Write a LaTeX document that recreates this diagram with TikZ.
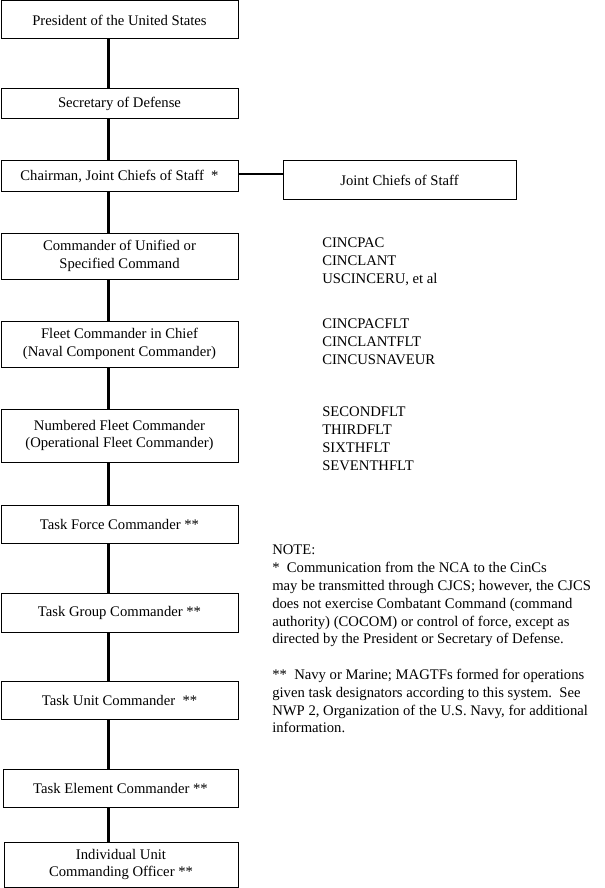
\documentclass[tikz,border=0pt]{standalone}
\usepackage{fontspec}
\setmainfont{Liberation Serif}
\begin{document}
\begin{tikzpicture}[x=0.75pt,y=-0.75pt,
  every node/.style={font=\fontsize{11}{13.35}\selectfont},
  orgbox/.style={draw=black,line width=0.75pt,rectangle,inner sep=0pt,align=center},
  link/.style={line width=1.6pt},
  notetext/.style={anchor=north west,inner sep=0pt,align=left}]
\useasboundingbox[fill=white] (0,0) rectangle (605,888);
% boxes: (x1,y1)-(x2,y2) in pixel units
\newcommand{\orgnode}[6]{%
  \node[orgbox,minimum width={(#4-#2)*0.75pt},minimum height={(#5-#3)*0.75pt}]
    (#1) at ({(#2+#4)/2},{(#3+#5)/2}) {#6};}
\orgnode{pres}{1}{1}{238}{39}{President of the United States}
\orgnode{sec}{1}{89}{238}{119}{Secretary of Defense}
\orgnode{cjcs}{1}{161}{238}{191}{Chairman, Joint Chiefs of Staff~~*}
\orgnode{jcs}{283}{161}{516}{199}{Joint Chiefs of Staff}
\orgnode{cmd}{1}{233}{238}{279}{Commander of Unified or\\Specified Command}
\orgnode{fcc}{1}{321}{238}{367}{Fleet Commander in Chief\\(Naval Component Commander)}
\orgnode{nfc}{1}{409}{238}{462}{Numbered Fleet Commander\\(Operational Fleet Commander)}
\orgnode{tfc}{1}{505}{238}{543}{Task Force Commander **}
\orgnode{tgc}{1}{593}{238}{632}{Task Group Commander **}
\orgnode{tuc}{1}{681}{238}{719}{Task Unit Commander~~**}
\orgnode{tec}{3}{769}{238}{807}{Task Element Commander **}
\orgnode{iuc}{4}{842}{238}{887}{Individual Unit\\Commanding Officer **}
% connectors
\coordinate (vx) at (108.5,0);
\coordinate (hy) at (0,174);
\foreach \a/\b in {pres/sec,sec/cjcs,cjcs/cmd,cmd/fcc,fcc/nfc,nfc/tfc,tfc/tgc,tgc/tuc,tuc/tec,tec/iuc}
  \draw[link] (\a.south -| vx) -- (\b.north -| vx);
\draw[link] (cjcs.east |- hy) -- (jcs.west |- hy);
% side lists
\node[notetext] (l1) at (322,238) {CINCPAC\\CINCLANT\\USCINCERU, et al};
\node[notetext] (l2) at (322,319) {CINCPACFLT\\CINCLANTFLT\\CINCUSNAVEUR};
\node[notetext] (l3) at (322,407) {SECONDFLT\\THIRDFLT\\SIXTHFLT\\SEVENTHFLT};
% note
\node[notetext] (note) at (272,545) {NOTE:\\
*~~Communication from the NCA to the CinCs\\
may be transmitted through CJCS; however, the CJCS\\
does not exercise Combatant Command (command\\
authority) (COCOM) or control of force, except as\\
directed by the President or Secretary of Defense.\\[13.35pt]
**~~Navy or Marine; MAGTFs formed for operations\\
given task designators according to this system.~~See\\
NWP 2, Organization of the U.S. Navy, for additional\\
information.};
\end{tikzpicture}
\end{document}
